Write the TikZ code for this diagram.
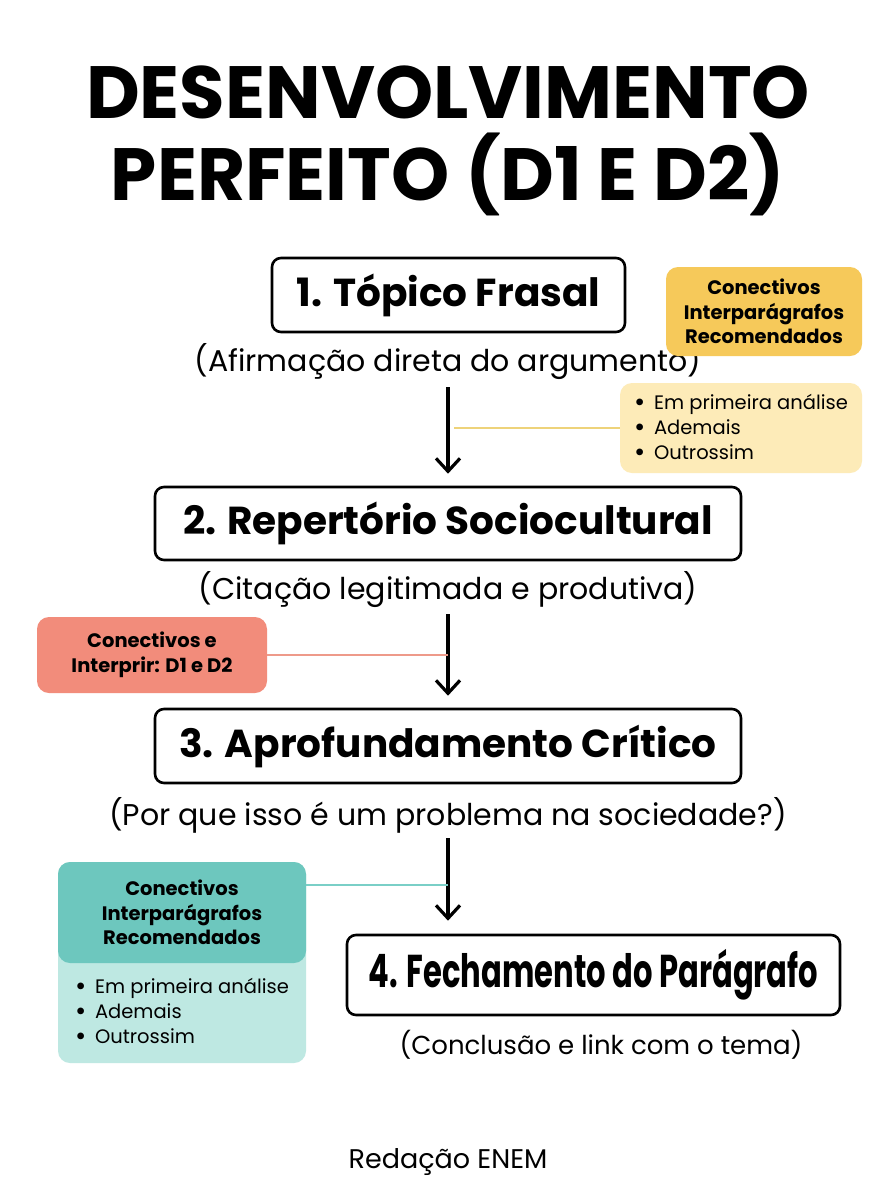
\documentclass[tikz,border=0pt]{standalone}
\usepackage{fontspec}
\setmainfont{Poppins}
\usetikzlibrary{arrows.meta}

\definecolor{ouro}{HTML}{F6C95A}
\definecolor{ourocla}{HTML}{FDEBB8}
\definecolor{ourolin}{HTML}{EED37A}
\definecolor{coral}{HTML}{F28C7B}
\definecolor{corallin}{HTML}{EE9A8A}
\definecolor{verde}{HTML}{6DC7BE}
\definecolor{verdecla}{HTML}{BEE8E2}
\definecolor{verdelin}{HTML}{7ACFC7}

\newcommand{\marca}{\raisebox{-0.12em}{\scalebox{1.4}{\textbullet}}\hspace{0.45em}}

\begin{document}
\begin{tikzpicture}[x=1pt,y=-1pt,
    etapa/.style={draw=black, line width=2.6pt, rounded corners=9pt, fill=white, inner sep=0pt,
      font=\bfseries\fontsize{39}{44}\selectfont},
    legenda/.style={inner sep=0pt, font=\fontsize{30}{34}\selectfont},
    fluxo/.style={line width=3.2pt,
      -{Straight Barb[length=13pt,width=24pt,line width=3.2pt]}},
    caixa/.style={rounded corners=12pt, inner sep=0pt, align=center,
      font=\bfseries\fontsize{19.5}{24.5}\selectfont},
    lista/.style={inner sep=0pt, align=left, font=\fontsize{19.5}{25}\selectfont},
    ramo/.style={line width=2.2pt}]
  \useasboundingbox[fill=white] (0,0) rectangle (896,1200);

  \node[font=\bfseries\fontsize{74}{82}\selectfont, align=center] (titulo) at (448,141)
    {DESENVOLVIMENTO\\PERFEITO (D1 E D2)};

  % etapas
  \node[etapa, minimum width=353, minimum height=74] (b1) at (448.5,295) {1. Tópico Frasal};
  \node[legenda] (s1) at (448,362) {(Afirmação direta do argumento)};
  \node[etapa, minimum width=586, minimum height=73] (b2) at (448,523.5) {2. Repertório Sociocultural};
  \node[legenda] (s2) at (448,590) {(Citação legitimada e produtiva)};
  \node[etapa, minimum width=586, minimum height=74] (b3) at (448,746) {3. Aprofundamento Crítico};
  \node[legenda] (s3) at (448,815) {(Por que isso é um problema na sociedade?)};
  \node[etapa, minimum width=493, minimum height=80] (b4) at (593.5,975)
    {\scalebox{0.665}[1]{\fontsize{46}{50}\selectfont 4. Fechamento do Parágrafo}};
  \node[legenda, font=\fontsize{26}{30}\selectfont] (s4) at (601,1045) {(Conclusão e link com o tema)};

  \coordinate (a1) at (448,387);
  \coordinate (a2) at (448,614);
  \coordinate (a3) at (448,838);
  \draw[fluxo, shorten >=12pt] (a1) -- (b2.north -| a1);
  \draw[fluxo, shorten >=12pt] (a2) -- (b3.north -| a2);
  \draw[fluxo, shorten >=13pt] (a3) -- (b4.north -| a3);

  % conectivos
  \node[caixa, fill=ouro, minimum width=196, minimum height=89] (c1) at (764,311.5)
    {Conectivos\\Interparágrafos\\Recomendados};
  \node[caixa, fill=ourocla, minimum width=242, minimum height=90] (l1) at (741,428) {};
  \node[lista] at (l1) {\marca Em primeira análise\\\marca Ademais\\\marca Outrossim};
  \draw[ramo, ourolin] (l1.west) -- (454,428);

  \node[caixa, fill=coral, minimum width=230, minimum height=76] (c2) at (152,655)
    {Conectivos e\\Interprir: D1 e D2};
  \draw[ramo, corallin] (c2.east) -- (a2 |- c2.east);

  \node[caixa, fill=verdecla, minimum width=248, minimum height=201] (l3) at (182,962.5) {};
  \node[caixa, fill=verde, minimum width=248, minimum height=101] (c3) at (182,912.5)
    {Conectivos\\Interparágrafos\\Recomendados};
  \node[lista] at (182,1012) {\marca Em primeira análise\\\marca Ademais\\\marca Outrossim};
  \draw[ramo, verdelin] (c3.east |- 0,885) -- (a3 |- 0,885);

  \node[font=\fontsize{27}{30}\selectfont] (rodape) at (448,1162) {Redação ENEM};
\end{tikzpicture}
\end{document}
